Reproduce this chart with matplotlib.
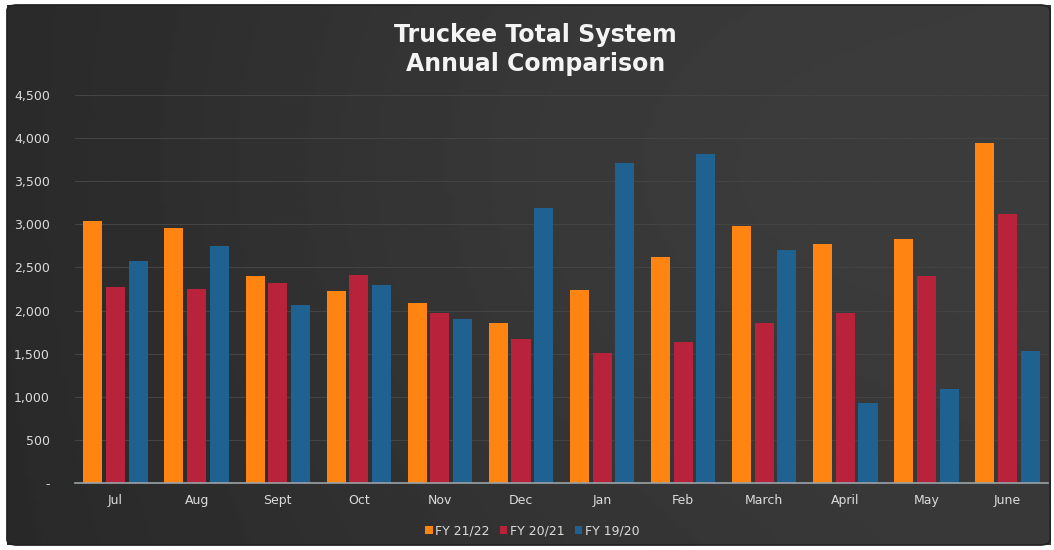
import matplotlib.pyplot as plt
import numpy as np
from matplotlib.patches import FancyBboxPatch
from matplotlib.ticker import FuncFormatter

MONTHS = ['Jul', 'Aug', 'Sept', 'Oct', 'Nov', 'Dec', 'Jan', 'Feb', 'March', 'April', 'May', 'June']
FY2122 = [3040, 2960, 2400, 2230, 2090, 1855, 2240, 2620, 2980, 2770, 2830, 3945]
FY2021 = [2275, 2250, 2320, 2410, 1970, 1670, 1510, 1635, 1855, 1970, 2400, 3120]
FY1920 = [2575, 2750, 2065, 2300, 1900, 3190, 3710, 3815, 2700, 930, 1090, 1530]
SERIES = [('FY 21/22', FY2122, '#ff8412'), ('FY 20/21', FY2021, '#b8223a'), ('FY 19/20', FY1920, '#1f6191')]

fig = plt.figure(figsize=(10.54, 5.5), dpi=100)
fig.patch.set_facecolor('white')

# dark panel with a soft gradient, darker on the left
bg = fig.add_axes([0.0066, 0.009, 0.9897, 0.982])
grad = np.linspace(0, 1, 256)
gx, gy = np.meshgrid(grad, grad)
shade = 0.16 + 0.06 * gx + 0.03 * np.exp(-((gx - 0.6) ** 2 / 0.2 + (gy - 0.3) ** 2 / 0.5))
bg.imshow(shade, cmap='gray', vmin=0, vmax=1, aspect='auto', extent=[0, 1, 0, 1])
bg.set_axis_off()
fig.patches.append(FancyBboxPatch((0.0066, 0.009), 0.9897, 0.982, boxstyle='round,pad=0,rounding_size=0.01',
                                  transform=fig.transFigure, facecolor='none', edgecolor='#222222', lw=1.2))

ax = fig.add_axes([0.0712, 0.1218, 0.9231, 0.7055])
ax.patch.set_alpha(0)
x = np.arange(len(MONTHS))
w = 0.235
step = 0.28
for i, (name, vals, col) in enumerate(SERIES):
    ax.bar(x + (i - 1) * step, vals, width=w, color=col, label=name, zorder=3)

ax.set_xlim(-0.5, len(MONTHS) - 0.5)
ax.set_ylim(0, 4500)
ax.set_yticks(range(0, 4501, 500))
ax.yaxis.set_major_formatter(FuncFormatter(lambda v, p: '-' if v == 0 else f'{int(v):,}'))
ax.set_xticks(x)
ax.set_xticklabels(MONTHS)
ax.tick_params(colors='#dcdcdc', labelsize=9, length=0)
ax.tick_params(axis='y', pad=18)
ax.tick_params(axis='x', pad=8)
ax.grid(axis='y', color='#444444', lw=0.8, zorder=0)
for s in ['top', 'right', 'left']:
    ax.spines[s].set_visible(False)
ax.spines['bottom'].set_color('#9aa3a8')
ax.spines['bottom'].set_linewidth(1.2)
ax.spines['bottom'].set_zorder(4)

fig.text(0.508, 0.91, 'Truckee Total System\nAnnual Comparison', ha='center', va='center',
         color='#f4f4f4', fontsize=17, fontweight='semibold', linespacing=1.25)

handles, labels = ax.get_legend_handles_labels()
fig.legend(handles, labels, loc='center', bbox_to_anchor=(0.505, 0.035), ncol=3, frameon=False,
           labelcolor='#dcdcdc', fontsize=9, handlelength=0.6, handleheight=0.6,
           handletextpad=0.2, columnspacing=0.8)

fig.savefig('out.png', dpi=100)
